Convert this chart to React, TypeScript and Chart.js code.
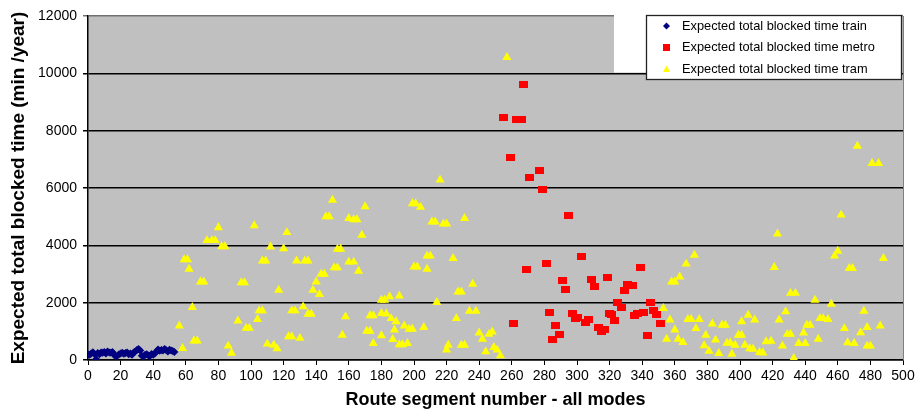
import React, { useEffect, useRef } from 'react';
import { Chart, registerables } from 'chart.js';

Chart.register(...registerables);

// ---- Data ----
const trainX = [0, 1, 2, 3, 4, 5, 6, 7, 8, 9, 10, 11, 12, 13, 14, 15, 16, 17, 18, 19, 20, 21, 22, 23, 24, 25, 26, 27, 28, 29, 30, 31, 32, 33, 34, 35, 36, 37, 38, 39, 40, 41, 42, 43, 44, 45, 46, 47, 48, 49, 50, 51, 52, 53];
const trainY = [190, 180, 230, 270, 210, 30, 240, 200, 260, 250, 280, 230, 300, 260, 250, 280, 190, 120, 150, 200, 230, 250, 220, 240, 260, 200, 230, 180, 260, 300, 350, 380, 330, 150, 120, 180, 200, 160, 140, 210, 180, 230, 300, 370, 320, 350, 330, 380, 340, 300, 360, 330, 310, 280];

const metroX = [255, 259, 261, 263, 266, 267, 269, 271, 277, 279, 281, 283, 285, 287, 289, 291, 293, 295, 297, 299, 300, 303, 305, 307, 309, 311, 313, 315, 317, 319, 320, 321, 323, 325, 327, 329, 331, 334, 335, 337, 339, 341, 343, 345, 347, 349, 351];
const metroY = [8450, 7050, 1290, 8380, 8380, 9600, 3170, 6380, 6600, 5950, 3370, 1650, 720, 1200, 880, 2770, 2450, 5030, 1630, 1450, 1490, 3620, 1300, 1400, 2800, 2560, 1150, 1000, 1060, 2880, 1630, 1600, 1370, 2020, 1830, 2440, 2650, 2600, 1560, 1620, 3240, 1660, 850, 1990, 1710, 1600, 1260];

const tramX = [56, 58, 59, 61, 62, 64, 65, 67, 69, 71, 73, 76, 78, 80, 82, 84, 86, 88, 92, 94, 96, 97, 99, 102, 104, 105, 107, 107, 109, 110, 112, 114, 116, 117, 120, 122, 123, 125, 125, 127, 128, 130, 132, 133, 135, 135, 137, 138, 140, 142, 143, 145, 146, 148, 150, 151, 153, 153, 155, 156, 158, 160, 160, 163, 163, 165, 166, 168, 170, 171, 173, 173, 175, 175, 180, 180, 182, 180, 183, 185, 186, 187, 188, 189, 191, 193, 191, 194, 196, 197, 199, 199, 201, 200, 202, 204, 206, 208, 210, 208, 211, 213, 214, 216, 218, 220, 220, 221, 224, 226, 227, 229, 229, 231, 231, 234, 236, 238, 240, 242, 244, 246, 248, 249, 251, 253, 257, 353, 355, 357, 358, 360, 360, 362, 363, 365, 367, 368, 370, 372, 373, 375, 378, 379, 381, 383, 385, 387, 389, 391, 392, 394, 395, 397, 399, 401, 401, 403, 405, 406, 408, 409, 412, 414, 416, 419, 421, 423, 424, 426, 428, 429, 431, 431, 433, 434, 436, 439, 440, 441, 443, 446, 448, 449, 451, 454, 456, 458, 460, 462, 464, 466, 467, 469, 470, 472, 474, 476, 478, 478, 480, 481, 485, 486, 488];
const tramY = [1190, 410, 3500, 3500, 3170, 1840, 670, 670, 2730, 2730, 4170, 4170, 4170, 4620, 3960, 3960, 490, 240, 1370, 2700, 2700, 1110, 1110, 4690, 1420, 1720, 1720, 3460, 3460, 560, 3950, 520, 400, 2440, 3890, 4450, 820, 820, 1720, 1720, 3460, 760, 1860, 3460, 3460, 1600, 1600, 2440, 2730, 2290, 3000, 3000, 5000, 5000, 5580, 3220, 3220, 3870, 3870, 870, 1510, 4940, 3420, 3420, 4900, 4900, 3100, 4360, 5350, 1010, 1010, 1550, 1550, 580, 850, 2090, 2090, 1630, 1610, 2210, 1450, 720, 1050, 1340, 540, 540, 2240, 1190, 580, 1080, 1080, 5460, 5460, 3250, 3250, 5330, 1140, 3630, 3630, 3170, 4820, 4820, 2010, 6280, 4750, 4750, 350, 520, 3550, 1450, 2380, 2380, 520, 520, 4940, 1710, 2650, 1710, 950, 730, 290, 900, 980, 440, 350, 150, 10560, 1800, 730, 1400, 2730, 2730, 1050, 730, 2900, 620, 3350, 1420, 1420, 3660, 1100, 1420, 500, 870, 310, 1260, 700, 230, 1220, 1220, 590, 600, 210, 520, 870, 870, 1340, 520, 1570, 400, 380, 1400, 270, 250, 640, 660, 3230, 4400, 1400, 490, 1690, 900, 900, 2330, 60, 2330, 580, 950, 580, 1220, 1220, 2090, 730, 1450, 1450, 1420, 1950, 3630, 3800, 5060, 1100, 610, 3200, 3200, 580, 7460, 960, 1710, 1140, 490, 490, 6860, 6860, 1190, 3550];

const seriesNames = [
  'Expected total blocked time train',
  'Expected total blocked time metro',
  'Expected total blocked time tram',
];
const xTitle = 'Route segment number - all modes';
const yTitle = 'Expected total blocked time (min /year)';

const FONT = "'Liberation Sans', Arial, sans-serif";

function pts(xs: number[], ys: number[]) {
  return xs.map((x, i) => ({ x, y: ys[i] }));
}

export default function App() {
  const ref = useRef<HTMLCanvasElement>(null);

  useEffect(() => {
    document.body.style.margin = '0';
    const canvas = ref.current!;

    const metroImg = document.createElement('canvas');
    metroImg.width = 9;
    metroImg.height = 7;
    const mc = metroImg.getContext('2d')!;
    mc.fillStyle = '#FF0000';
    mc.fillRect(0, 0, 9, 7);

    const decor = {
      id: 'decor',
      beforeDraw(chart: any) {
        const { ctx, chartArea: a } = chart;
        ctx.save();
        ctx.fillStyle = '#C0C0C0';
        ctx.fillRect(a.left, a.top, a.right - a.left, a.bottom - a.top);
        ctx.restore();
      },
      afterDraw(chart: any) {
        const { ctx, chartArea: a } = chart;
        ctx.save();
        // right plot border
        ctx.strokeStyle = '#808080';
        ctx.lineWidth = 1;
        ctx.beginPath();
        ctx.moveTo(a.right + 0.5, a.top);
        ctx.lineTo(a.right + 0.5, a.bottom);
        ctx.stroke();
        // white patch left of legend
        ctx.fillStyle = '#FFFFFF';
        ctx.fillRect(614, 14, 33, 58.5);
        // legend box
        const lx = 646.5, ly = 15.5, lw = 255, lh = 64;
        ctx.fillStyle = '#FFFFFF';
        ctx.fillRect(lx, ly, lw, lh);
        ctx.strokeStyle = '#222';
        ctx.lineWidth = 1.3;
        ctx.strokeRect(lx, ly, lw, lh);
        const mx = 666.5;
        const rows = [26, 47.5, 69];
        // train diamond
        ctx.fillStyle = '#000080';
        ctx.beginPath();
        ctx.moveTo(mx, rows[0] - 3.5);
        ctx.lineTo(mx + 3.5, rows[0]);
        ctx.lineTo(mx, rows[0] + 3.5);
        ctx.lineTo(mx - 3.5, rows[0]);
        ctx.closePath();
        ctx.fill();
        // metro square
        ctx.fillStyle = '#FF0000';
        ctx.fillRect(mx - 3.5, rows[1] - 3.5, 7, 7);
        // tram triangle
        ctx.fillStyle = '#FFFF00';
        ctx.beginPath();
        ctx.moveTo(mx, rows[2] - 3.5);
        ctx.lineTo(mx + 3.5, rows[2] + 3);
        ctx.lineTo(mx - 3.5, rows[2] + 3);
        ctx.closePath();
        ctx.fill();
        ctx.fillStyle = '#000';
        ctx.font = `12.8px ${FONT}`;
        ctx.textBaseline = 'middle';
        ctx.textAlign = 'left';
        seriesNames.forEach((n, i) => ctx.fillText(n, 682, rows[i]));
        ctx.restore();
      },
    };

    const chart = new Chart(canvas, {
      type: 'scatter',
      data: {
        datasets: [
          {
            label: seriesNames[0],
            data: pts(trainX, trainY),
            pointStyle: 'rectRot',
            pointRadius: 4,
            borderWidth: 0,
            backgroundColor: '#000080',
            borderColor: '#000080',
          },
          {
            label: seriesNames[1],
            data: pts(metroX, metroY),
            pointStyle: metroImg as any,
            pointRadius: 5,
            borderWidth: 0,
            backgroundColor: '#FF0000',
            borderColor: '#FF0000',
          },
          {
            label: seriesNames[2],
            data: pts(tramX, tramY),
            pointStyle: 'triangle',
            pointRadius: 5.3,
            borderWidth: 0,
            backgroundColor: '#FFFF00',
            borderColor: '#FFFF00',
          },
        ],
      },
      options: {
        animation: false,
        responsive: true,
        maintainAspectRatio: false,
        devicePixelRatio: 1,
        layout: { padding: { top: 16, right: 20, left: 0, bottom: 0 } },
        plugins: {
          legend: { display: false },
          tooltip: { enabled: false },
        },
        scales: {
          x: {
            type: 'linear',
            min: 0,
            max: 500,
            ticks: {
              stepSize: 20,
              autoSkip: false,
              maxRotation: 0,
              color: '#000',
              padding: 3,
              font: { family: FONT, size: 14 },
              callback: (v: any) => String(v),
            },
            grid: { drawOnChartArea: false, tickLength: 5, color: '#000', lineWidth: 1 },
            border: { color: '#000', width: 1.5 },
            title: {
              display: true,
              text: xTitle,
              color: '#000',
              font: { family: FONT, size: 18, weight: 'bold' },
              padding: { top: 0, bottom: 2 },
            },
            afterFit: (s: any) => {
              s.height = 53;
            },
          },
          y: {
            type: 'linear',
            min: 0,
            max: 12000,
            ticks: {
              stepSize: 2000,
              color: '#000',
              padding: 6,
              font: { family: FONT, size: 14 },
              callback: (v: any) => String(v),
            },
            grid: {
              color: (c: any) => (c.tick && c.tick.value === 12000 ? '#707070' : '#000'),
              lineWidth: 1.5,
              tickLength: 5,
            },
            border: { color: '#000', width: 1.5 },
            title: {
              display: true,
              text: yTitle,
              color: '#000',
              font: { family: FONT, size: 19, weight: 'bold' },
              padding: { top: 7, bottom: 0 },
            },
            afterFit: (s: any) => {
              s.width = 88;
            },
          },
        },
      },
      plugins: [decor],
    });

    return () => chart.destroy();
  }, []);

  return (
    <div style={{ width: 923, height: 413, position: 'relative' }}>
      <canvas ref={ref} />
    </div>
  );
}
